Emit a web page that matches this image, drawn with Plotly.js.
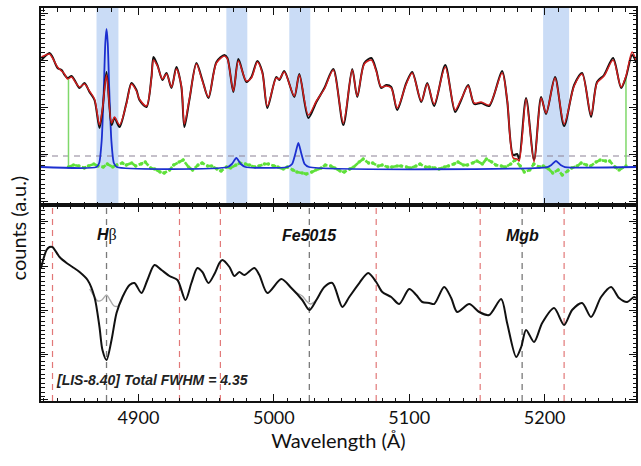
<!DOCTYPE html>
<html><head><meta charset="utf-8">
<script src="https://cdn.plot.ly/plotly-3.0.1.min.js"></script>
<style>html,body{margin:0;padding:0;background:#fff}#plot{width:641px;height:466px}</style>
</head><body><div id="plot"></div>
<script>
// ---- top panel: observed spectrum, best-fit model, emission, residuals ----
const topWave = [4828.4,4834.3,4836.5,4840.2,4843.2,4845.4,4847.6,4850.6,4852.8,4856.5,4860.1,4863.8,4867.5,4871.2,4873.4,4876.4,4880.1,4882.3,4886.0,4891.1,4894.8,4898.5,4900.7,4905.9,4909.6,4911.1,4914.0,4917.7,4920.7,4924.4,4928.0,4931.7,4933.9,4937.6,4942.8,4947.2,4951.7,4957.6,4963.5,4965.7,4970.1,4973.8,4979.7,4983.4,4987.8,4991.5,4995.2,5001.8,5004.1,5007.7,5015.1,5018.8,5025.5,5031.4,5037.3,5043.9,5051.3,5057.9,5061.6,5066.8,5072.0,5075.6,5079.3,5083.0,5086.7,5091.1,5097.8,5102.2,5108.9,5113.3,5118.4,5126.6,5133.9,5138.4,5143.5,5148.0,5153.1,5159.0,5168.6,5172.3,5176.8,5179.7,5181.2,5186.3,5192.2,5197.4,5201.1,5207.7,5214.4,5221.8,5227.7,5234.3,5238.7,5243.9,5250.6,5256.5,5260.1,5264.6,5267.5];
const observed = [143,150,146,135,133,128,125,127,123,115,120,111,103,75,93,131,78,85,76,100,120,113,103,96,126,146,138,123,130,115,136,116,76,103,140,123,105,141,148,145,111,144,121,126,142,131,95,126,123,132,106,129,85,101,115,134,78,134,106,140,145,133,115,118,116,93,120,131,101,120,97,138,91,103,118,99,100,97,132,103,48,49,44,105,43,106,89,126,77,118,130,86,121,128,145,115,126,148,141];
const model    = [146,149,145,136,132,129,124,126,122,116,119,112,104,78,94,128,80,86,78,99,119,112,104,97,125,143,137,124,129,116,134,117,79,104,139,122,106,140,147,144,112,142,122,125,141,130,97,125,124,131,107,128,88,102,114,133,80,133,107,139,143,132,116,117,115,95,119,130,102,119,99,136,93,104,117,100,101,98,130,104,45,44,42,104,41,105,90,125,79,117,129,88,120,127,143,116,127,151,143];
const emWave = [4828,4869,4871,4872.8,4874.3,4875.5,4876.4,4877.3,4878.5,4880,4881.8,4884,4966,4969,4972.3,4975.6,4979,5010,5013.5,5016,5018.1,5020.2,5022.7,5026,5202,5205,5208.4,5211.8,5215,5267.5];
const emFlux = [36,36,40,62,110,160,174,160,110,62,40,36,36,39,45,39,36,36,39,50,60,50,39,36,36,38,42,38,36,36];
const resWave = [4848.3,4852,4856,4860,4863,4867,4870,4874,4877,4881,4884,4888,4891,4895,4898,4902,4905,4909,4912,4916,4919,4923,4926,4930,4933,4937,4940,4944,4947,4951,4954,4958,4961,4965,4968,4972,4975,4979,4982,4986,4989,4993,4996,5000,5003,5007,5010,5014,5017,5021,5024,5028,5031,5035,5038,5042,5045,5049,5052,5056,5059,5063,5066,5070,5073,5077,5080,5084,5087,5091,5094,5098,5101,5105,5108,5112,5115,5119,5122,5126,5129,5133,5136,5140,5143,5147,5150,5154,5157,5161,5164,5168,5171,5175,5178,5182,5185,5189,5192,5196,5199,5203,5206,5210,5213,5217,5220,5224,5227,5231,5234,5238,5241,5245,5248,5252,5255,5260.1];
const residual = [36,38,37,35,37,39,37,36,39,36,38,40,38,40,37,39,41,35,34,31,30,33,38,41,43,36,33,38,40,37,37,34,32,36,35,38,40,39,38,36,37,39,39,37,36,34,36,33,31,30,29,31,33,35,38,37,35,32,31,34,36,41,44,40,40,37,38,36,36,37,37,36,35,37,39,36,36,35,34,36,37,39,41,38,38,40,42,39,44,41,38,37,36,39,43,37,31,33,39,36,37,34,30,33,28,32,35,37,40,38,37,41,43,42,42,36,33,37];
const residLimit = 47;          // dashed level
const maskEdges = [4848.3, 5260.1];
const maskTop = [125, 126];
const residBase = 36;
const fitBands = [[4869.0,4885.2],[4964.9,4980.4],[5011.4,5026.9],[5198.9,5218.1]];

// ---- bottom panel: emission-corrected spectrum ----
const botWave = [4828,4832.1,4834.3,4836.5,4841.7,4846.9,4851.3,4856.5,4862.4,4867.5,4871.2,4873.4,4876.4,4880.1,4883.8,4888.2,4893.4,4897.0,4902.2,4906.6,4911.8,4917.0,4922.9,4928.8,4934.7,4939.1,4943.5,4947.2,4951.7,4956.1,4959.8,4962.0,4967.2,4970.8,4974.5,4978.2,4985.6,4989.3,4995.2,5005.5,5012.9,5021.0,5026.2,5031.4,5037.3,5043.2,5050.6,5055.7,5063.1,5069.7,5075.6,5080.1,5086.7,5092.6,5100.0,5105.2,5109.6,5114.8,5118.4,5125.8,5131.0,5135.4,5144.3,5151.7,5159.0,5167.9,5172.3,5179.0,5182.7,5186.3,5192.2,5198.2,5207.0,5214.4,5220.3,5227.7,5234.3,5241.7,5249.1,5255.0,5260.9,5266.0,5267.5];
const corrected = [133,151,154,154,144,138,134,129,121,104,74,51,41,61,88,104,116,118,108,121,136,131,125,121,101,118,133,129,118,127,138,141,134,125,129,126,133,126,108,122,113,101,91,101,114,118,94,104,118,128,119,109,104,97,112,106,99,98,97,114,103,89,97,89,86,102,78,44,54,71,59,78,93,76,91,98,84,104,114,103,99,104,103];
const uncorrHbW = [4864,4867.5,4870,4873,4876.4,4879,4882,4885,4888];
const uncorrHb  = [112,104,100,101,106,101,95,95,103];
const uncorrFeW = [5012.9,5017,5021,5024,5027,5031.4];
const uncorrFe  = [113,108,105,100,97,101];
const bandEdges = [4836.5,4930.3,4960.5,5075.6,5152.4,5214.4];
const indexCentres = [4876.4,5026.2,5183.4];
const indexNames = ['<b><i>H</i></b><span style="font-family:Liberation Serif">β</span>','<b><i>Fe5015</i></b>','<b><i>Mgb</i></b>'];
const noteText = '<b><i>[LIS-8.40] Total FWHM = 4.35</i></b>';
const xRange = [4828, 5267.5];

const split = 0.4987;
const traces = [];
// top panel
traces.push({x:[xRange[0],xRange[1]], y:[residLimit,residLimit], xaxis:'x2', yaxis:'y2', mode:'lines',
  line:{color:'#8c8296', width:1.2, dash:'6px,5px'}, hoverinfo:'skip'});
maskEdges.forEach((w,i)=>traces.push({x:[w,w], y:[residBase,maskTop[i]], xaxis:'x2', yaxis:'y2', mode:'lines',
  line:{color:'#7fd86a', width:1.5}, hoverinfo:'skip'}));
traces.push({x:resWave, y:residual, xaxis:'x2', yaxis:'y2', mode:'lines+markers',
  line:{color:'#5fe03a', width:2.6, dash:'5px,2px'}, marker:{color:'#5fe03a', size:3.5}});
traces.push({x:emWave, y:emFlux, xaxis:'x2', yaxis:'y2', mode:'lines',
  line:{color:'#1c2fd0', width:1.8, shape:'spline', smoothing:0.6}});
traces.push({x:topWave, y:observed, xaxis:'x2', yaxis:'y2', mode:'lines',
  line:{color:'#111', width:2, shape:'spline', smoothing:0.8}});
traces.push({x:topWave, y:model, xaxis:'x2', yaxis:'y2', mode:'lines',
  line:{color:'#d01e1e', width:1.5, shape:'spline', smoothing:0.8}});
// bottom panel
traces.push({x:uncorrHbW, y:uncorrHb, xaxis:'x', yaxis:'y', mode:'lines', line:{color:'#aaa', width:1.4, shape:'spline'}});
traces.push({x:uncorrFeW, y:uncorrFe, xaxis:'x', yaxis:'y', mode:'lines', line:{color:'#aaa', width:1.4, shape:'spline'}});
traces.push({x:botWave, y:corrected, xaxis:'x', yaxis:'y', mode:'lines',
  line:{color:'#111', width:2, shape:'spline', smoothing:0.8}});

const shapes = [];
fitBands.forEach(b=>shapes.push({type:'rect', xref:'x2', yref:'y2 domain', x0:b[0], x1:b[1], y0:0, y1:1,
  fillcolor:'#cadcf6', line:{width:0}, layer:'below'}));
bandEdges.forEach(w=>shapes.push({type:'line', xref:'x', yref:'y domain', x0:w, x1:w, y0:0, y1:1,
  line:{color:'#e27878', width:1.2, dash:'6px,5px'}, layer:'below'}));
indexCentres.forEach(w=>shapes.push({type:'line', xref:'x', yref:'y domain', x0:w, x1:w, y0:0, y1:1,
  line:{color:'#7a7a7a', width:1.3, dash:'6px,5px'}, layer:'below'}));

const annotations = indexCentres.map((w,i)=>({xref:'x', yref:'y domain', x:w, y:0.845, text:indexNames[i],
  showarrow:false, font:{family:'Liberation Sans', size:16, color:'#111'}, xanchor:'center', yanchor:'middle'}));
annotations.push({xref:'paper', yref:'y domain', x:0.022, y:0.105, text:noteText, showarrow:false,
  xanchor:'left', yanchor:'middle', font:{family:'Liberation Sans', size:14, color:'#222'}});
annotations.push({xref:'paper', yref:'paper', x:-0.038, y:0.44, text:'counts (a.u.)', textangle:-90, showarrow:false,
  xanchor:'center', yanchor:'middle', font:{family:'Lato', size:20, color:'#111'}});

const axCommon = {showline:true, linecolor:'#111', linewidth:1.6, mirror:'allticks', ticks:'inside', tickcolor:'#111',
  showgrid:false, zeroline:false};
const layout = {
  width:641, height:466, margin:{l:41, r:5, t:8, b:65}, paper_bgcolor:'#fff', plot_bgcolor:'#fff', showlegend:false,
  xaxis:Object.assign({}, axCommon, {domain:[0,1], anchor:'y', range:xRange, dtick:100, tick0:4900, ticklen:7,
    minor:{ticks:'inside', dtick:10, ticklen:3.5, tickcolor:'#111', showgrid:false},
    tickfont:{family:'Lato', size:18, color:'#111'},
    title:{text:'Wavelength (Å)', font:{family:'Lato', size:20, color:'#111'}, standoff:6}}),
  yaxis:Object.assign({}, axCommon, {domain:[0,split], anchor:'x', range:[0,196], tick0:2, dtick:44.3, ticklen:7,
    showticklabels:false, minor:{ticks:'inside', dtick:4.43, ticklen:3.5, tickcolor:'#111'}}),
  xaxis2:Object.assign({}, axCommon, {domain:[0,1], anchor:'y2', matches:'x', range:xRange, dtick:100, tick0:4900, ticklen:7,
    showticklabels:false, minor:{ticks:'inside', dtick:10, ticklen:3.5, tickcolor:'#111'}}),
  yaxis2:Object.assign({}, axCommon, {domain:[split,1], anchor:'x2', range:[-2,195], tick0:2, dtick:47, ticklen:7,
    showticklabels:false, minor:{ticks:'inside', dtick:4.7, ticklen:3.5, tickcolor:'#111'}}),
  shapes:shapes, annotations:annotations
};
Plotly.newPlot('plot', traces, layout, {staticPlot:true});
</script></body></html>
